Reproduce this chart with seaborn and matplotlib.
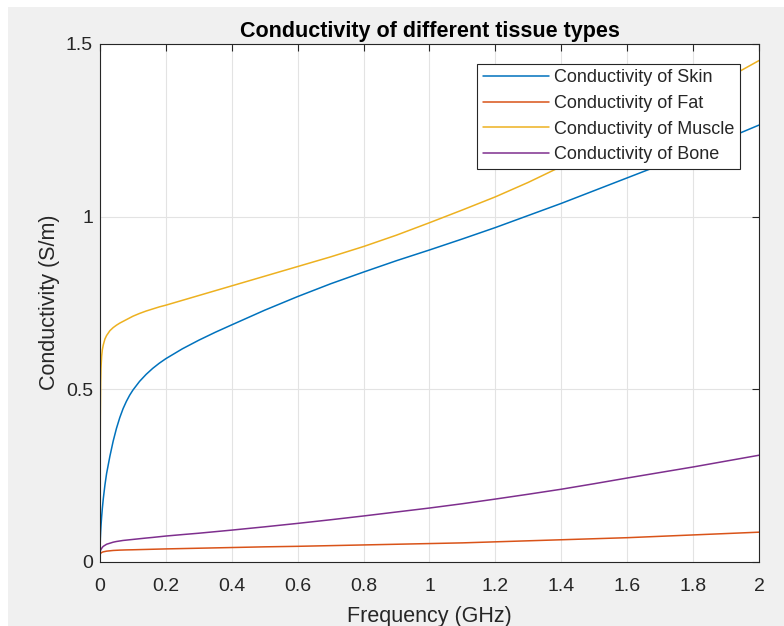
import numpy as np
import pandas as pd
import matplotlib
matplotlib.use("Agg")
import matplotlib.pyplot as plt
import seaborn as sns
from matplotlib.patches import Rectangle

freq = [0, 0.001, 0.002, 0.003, 0.005, 0.007, 0.01, 0.015, 0.02, 0.03, 0.04, 0.05,
        0.06, 0.07, 0.08, 0.09, 0.1,
        0.12, 0.14, 0.16, 0.18, 0.2,
        0.25, 0.3, 0.35, 0.4,
        0.5, 0.6, 0.7, 0.8, 0.9, 1.0, 1.1, 1.2, 1.3, 1.4, 1.5, 1.6, 1.7, 1.8, 1.9, 2.0]

skin = [0.02, 0.066, 0.087, 0.103, 0.13, 0.153, 0.182, 0.222, 0.255, 0.305, 0.349, 0.386,
        0.417, 0.443, 0.464, 0.482, 0.497,
        0.522, 0.5424, 0.5598, 0.5748, 0.588,
        0.6165, 0.6415, 0.6645, 0.686,
        0.7285, 0.768, 0.805, 0.839, 0.872, 0.903, 0.935, 0.968, 1.003, 1.038, 1.075,
        1.112, 1.149, 1.186, 1.225, 1.265]
fat = [0.02, 0.022, 0.0235, 0.0245, 0.026, 0.027, 0.028, 0.029, 0.030, 0.031, 0.032,
       0.0325, 0.033, 0.0333, 0.0336, 0.0338, 0.034,
       0.0345, 0.035, 0.0355, 0.036, 0.0365,
       0.0375, 0.0385, 0.0395, 0.0405,
       0.0425, 0.044, 0.046, 0.048, 0.050, 0.052, 0.054, 0.057, 0.060, 0.063, 0.066,
       0.069, 0.073, 0.077, 0.081, 0.085]
muscle = [0.2, 0.42, 0.52, 0.56, 0.595, 0.613, 0.628, 0.645, 0.655, 0.669, 0.678, 0.685,
          0.691, 0.696, 0.701, 0.706, 0.711,
          0.719, 0.726, 0.732, 0.738, 0.743,
          0.757, 0.771, 0.785, 0.799,
          0.827, 0.855, 0.883, 0.913, 0.946, 0.982, 1.019, 1.057, 1.099, 1.145, 1.194,
          1.244, 1.295, 1.346, 1.399, 1.452]
bone = [0.028, 0.031, 0.033, 0.035, 0.038, 0.041, 0.044, 0.047, 0.05, 0.053, 0.056, 0.058,
        0.0595, 0.061, 0.062, 0.063, 0.064,
        0.066, 0.068, 0.0698, 0.0718, 0.0738,
        0.078, 0.082, 0.0865, 0.091,
        0.1005, 0.1105, 0.121, 0.132, 0.1435, 0.155, 0.1675, 0.181, 0.195, 0.2095,
        0.2255, 0.242, 0.258, 0.274, 0.291, 0.308]

series_names = ["Conductivity of Skin", "Conductivity of Fat",
                "Conductivity of Muscle", "Conductivity of Bone"]
colors = ["#0072BD", "#D95319", "#EDB120", "#7E2F8E"]

xticks = [0, 0.2, 0.4, 0.6, 0.8, 1.0, 1.2, 1.4, 1.6, 1.8, 2.0]
xticklabels = ["0", "0.2", "0.4", "0.6", "0.8", "1", "1.2", "1.4", "1.6", "1.8", "2"]
yticks = [0, 0.5, 1.0, 1.5]
yticklabels = ["0", "0.5", "1", "1.5"]

rows = []
for name, vals in zip(series_names, [skin, fat, muscle, bone]):
    for f, v in zip(freq, vals):
        rows.append({"freq": f, "val": v, "series": name})
df = pd.DataFrame(rows)

sns.set_style("white")
plt.rcParams["font.family"] = ["Liberation Sans", "DejaVu Sans"]

fig = plt.figure(figsize=(7.84, 6.26), dpi=100)
fig.patch.set_facecolor("#f0f0f0")
fig.patches.append(Rectangle((0, 0), 8 / 784, 1, transform=fig.transFigure,
                             facecolor="white", edgecolor="none", zorder=-10))
fig.patches.append(Rectangle((0, 1 - 7 / 626), 1, 7 / 626, transform=fig.transFigure,
                             facecolor="white", edgecolor="none", zorder=-10))

ax = fig.add_axes([100 / 784, 1 - 561.5 / 626, (759 - 100) / 784, (561.5 - 44) / 626])
ax.set_facecolor("white")

sns.lineplot(data=df, x="freq", y="val", hue="series", hue_order=series_names,
             palette=colors, estimator=None, sort=False, linewidth=1.1, ax=ax)

ax.set_xlim(0, 2)
ax.set_ylim(0, 1.5)
ax.set_xticks(xticks)
ax.set_xticklabels(xticklabels)
ax.set_yticks(yticks)
ax.set_yticklabels(yticklabels)
ax.grid(True, color="#e3e3e3", linewidth=0.8)
ax.tick_params(direction="in", length=5, width=0.8, color="#262626",
               labelsize=14, labelcolor="#262626", top=True, right=True)
ax.tick_params(axis="x", pad=12)
ax.tick_params(axis="y", pad=5)
for s in ax.spines.values():
    s.set_color("#262626")
    s.set_linewidth(0.8)

ax.set_xlabel("Frequency (GHz)", fontsize=15.5, color="#262626", labelpad=7.5)
ax.set_ylabel("Conductivity (S/m)", fontsize=15.5, color="#262626", labelpad=4)
ax.set_title("Conductivity of different tissue types", fontsize=15.5,
             fontweight="bold", color="black", pad=5)

leg = ax.legend(loc="upper right", bbox_to_anchor=(0.971, 0.9614), fontsize=13,
                handlelength=3.65, frameon=True, fancybox=False, framealpha=1,
                edgecolor="#262626", borderpad=0.3, labelspacing=0.48,
                handletextpad=0.3, borderaxespad=0)
leg.get_frame().set_linewidth(0.8)

fig.savefig("out.png", dpi=100, facecolor=fig.get_facecolor())
